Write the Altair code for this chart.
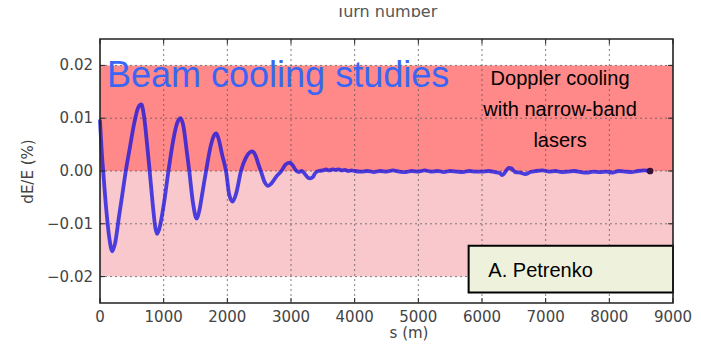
import altair as alt
import pandas as pd

# ---- data ----
s_m = [0, 25, 50, 100, 150, 192, 240, 300, 350, 405, 470, 540, 600, 650, 690, 740, 780,
       830, 870, 895, 930, 1000, 1075, 1150, 1210, 1262, 1310, 1360, 1402, 1460, 1517,
       1560, 1610, 1666, 1740, 1795, 1825, 1860, 1920, 1979, 2030, 2083, 2140, 2214,
       2290, 2350, 2396, 2440, 2490, 2526, 2590, 2640, 2690, 2760, 2848, 2920, 2984,
       3030, 3072, 3120, 3170, 3220, 3270, 3300, 3340, 3380, 3430, 3500, 3550, 3600,
       3650, 3700, 3750, 3800, 3850, 3900, 3950, 4000, 4100, 4200, 4300, 4400, 4500,
       4600, 4700, 4800, 4900, 5000, 5100, 5200, 5300, 5400, 5500, 5600, 5700, 5800,
       5900, 6000, 6100, 6200, 6280, 6320, 6370, 6420, 6460, 6520, 6600, 6680, 6760,
       6850, 6950, 7050, 7150, 7250, 7350, 7450, 7550, 7650, 7750, 7850, 7950, 8050,
       8150, 8250, 8350, 8450, 8550, 8640]
dE = [0.0095, 0.0040, 0.0000, -0.0075, -0.0130, -0.0152, -0.0135, -0.0085, -0.0045, 0.0000,
      0.0045, 0.0092, 0.0120, 0.0126, 0.0105, 0.0050, 0.0000,
      -0.0065, -0.0108, -0.0119, -0.0110, -0.0065, 0.0000, 0.0058, 0.0090, 0.0100, 0.0085,
      0.0040, 0.0000, -0.0060, -0.0090,
      -0.0075, -0.0040, 0.0000, 0.0048, 0.0068, 0.0071, 0.0062, 0.0030, 0.0000, -0.0045,
      -0.0058, -0.0042, 0.0000,
      0.0025, 0.0035, 0.0037, 0.0030, 0.0012, 0.0000, -0.0022, -0.0028, -0.0024, -0.0012,
      0.0000, 0.0013, 0.0016,
      0.0010, 0.0002, -0.0002, 0.0000, -0.0006, -0.0013, -0.0014, -0.0012, -0.0004, 0.0000,
      0.0001, 0.0003, 0.0001,
      0.0003, 0.0002, 0.0003, 0.0001, 0.0002, 0.0000, 0.0001, 0.0000, -0.0001, 0.0000,
      -0.0002, 0.0000, -0.0001,
      0.0001, -0.0001, -0.0002, 0.0000, -0.0001, 0.0001, -0.0001, 0.0000, -0.0002, 0.0000,
      -0.0001, -0.0002, 0.0000,
      -0.0001, -0.0001, 0.0000, -0.0002, -0.0004, -0.0008, -0.0001, 0.0006, 0.0005,
      -0.0002, -0.0003, -0.0006, -0.0002,
      0.0000, 0.0001, -0.0001, 0.0000, -0.0002, -0.0001, 0.0000, -0.0002, -0.0003, -0.0001,
      -0.0002, -0.0001, -0.0003,
      0.0000, -0.0001, -0.0002, 0.0000, 0.0001, 0.0000]

x_ticks = [0, 1000, 2000, 3000, 4000, 5000, 6000, 7000, 8000, 9000]
y_ticks = [-0.02, -0.01, 0.0, 0.01, 0.02]

band_names = ["positive", "negative"]
band_high = [0.02, 0.0]
band_low = [0.0, -0.02]
band_colors = ["#FF8888", "#F9C8CD"]

title_top = "Turn number"
x_title = "s (m)"
y_title = "dE/E (%)"
headline = "Beam cooling studies"
note_lines = "Doppler cooling\nwith narrow-band\nlasers"
author = "A. Petrenko"

# ---- chart ----
W, H = 573, 264
FONT = "DejaVu Sans"
GRAY = "#444444"

xs = alt.Scale(domain=[0, 9000], nice=False, zero=False)
ys = alt.Scale(domain=[-0.025, 0.025], nice=False, zero=False)

df_line = pd.DataFrame({"s": s_m, "dE": dE})
df_end = pd.DataFrame({"s": [s_m[-1]], "dE": [dE[-1]]})
df_bands = pd.DataFrame({"name": band_names, "hi": band_high, "lo": band_low})
df_xt = pd.DataFrame({"t": x_ticks})
df_xg = pd.DataFrame({"t": x_ticks[1:-1]})
df_yt = pd.DataFrame({"t": y_ticks})

bands = alt.Chart(df_bands).mark_rect().encode(
    x=alt.value(0), x2=alt.value(W),
    y=alt.Y("hi:Q", scale=ys, axis=None), y2="lo:Q",
    color=alt.Color("name:N", scale=alt.Scale(domain=band_names, range=band_colors), legend=None),
)

grid_style = dict(color="#555555", strokeDash=[2, 3], strokeWidth=1, opacity=0.75)
xgrid = alt.Chart(df_xg).mark_rule(**grid_style).encode(
    x=alt.X("t:Q", scale=xs, axis=None), y=alt.value(0), y2=alt.value(H))
ygrid = alt.Chart(df_yt).mark_rule(**grid_style).encode(
    y=alt.Y("t:Q", scale=ys, axis=None), x=alt.value(0), x2=alt.value(W))

tick_style = dict(color="#222222", strokeWidth=1)
xt_top = alt.Chart(df_xt).mark_rule(**tick_style).encode(
    x=alt.X("t:Q", scale=xs, axis=None), y=alt.value(0), y2=alt.value(5))
xt_bot = alt.Chart(df_xt).mark_rule(**tick_style).encode(
    x=alt.X("t:Q", scale=xs, axis=None), y=alt.value(H - 5), y2=alt.value(H))
yt_left = alt.Chart(df_yt).mark_rule(**tick_style).encode(
    y=alt.Y("t:Q", scale=ys, axis=None), x=alt.value(0), x2=alt.value(5))
yt_right = alt.Chart(df_yt).mark_rule(**tick_style).encode(
    y=alt.Y("t:Q", scale=ys, axis=None), x=alt.value(W - 5), x2=alt.value(W))

# tick labels as text marks driven by the tick lists
xlabels = alt.Chart(df_xt).mark_text(
    font=FONT, fontSize=15, color=GRAY, align="center", baseline="alphabetic").encode(
    x=alt.X("t:Q", scale=xs, axis=None), y=alt.value(H + 18.5),
    text=alt.Text("t:Q", format="d"))
ylabels = alt.Chart(df_yt).mark_text(
    font=FONT, fontSize=15, color=GRAY, align="right", baseline="middle").encode(
    y=alt.Y("t:Q", scale=ys, axis=None), x=alt.value(-7),
    text=alt.Text("t:Q", format=".2f"))

xtitle = alt.Chart().mark_text(
    text=x_title, font=FONT, fontSize=15, color=GRAY, align="center",
    baseline="alphabetic").encode(x=alt.value(309), y=alt.value(H + 35))
ytitle = alt.Chart().mark_text(
    text=y_title, font=FONT, fontSize=15, color=GRAY, align="center",
    baseline="alphabetic", angle=270).encode(x=alt.value(-67), y=alt.value(132.5))

line = alt.Chart(df_line).mark_line(
    color="#1A14E0", opacity=0.78, strokeWidth=3.8, interpolate="monotone",
    strokeCap="round", strokeJoin="round").encode(
    x=alt.X("s:Q", scale=xs, axis=None), y=alt.Y("dE:Q", scale=ys, axis=None))

end_pt = alt.Chart(df_end).mark_point(filled=True, color="#3A1238", size=45, opacity=1).encode(
    x=alt.X("s:Q", scale=xs, axis=None), y=alt.Y("dE:Q", scale=ys, axis=None))

head = alt.Chart().mark_text(
    text=headline, font="Liberation Sans", fontSize=36, color="#3A66F5",
    align="left", baseline="alphabetic").encode(
    x=alt.X(datum=110, scale=xs, axis=None), y=alt.Y(datum=0.0159, scale=ys, axis=None))

note = alt.Chart().mark_text(
    text=note_lines, lineBreak="\n", lineHeight=31, font="Liberation Sans", fontSize=20,
    color="#000000", align="center", baseline="alphabetic").encode(
    x=alt.X(datum=7226, scale=xs, axis=None), y=alt.Y(datum=0.0163, scale=ys, axis=None))

box = alt.Chart().mark_rect(fill="#EEF2DC", stroke="#000000", strokeWidth=2).encode(
    x=alt.X(datum=5790, scale=xs, axis=None), x2=alt.X2(datum=9000),
    y=alt.Y(datum=-0.01415, scale=ys, axis=None), y2=alt.Y2(datum=-0.0230))

author_txt = alt.Chart().mark_text(
    text=author, font="Liberation Sans", fontSize=20, color="#000000",
    align="left", baseline="alphabetic").encode(
    x=alt.X(datum=6100, scale=xs, axis=None), y=alt.Y(datum=-0.0200, scale=ys, axis=None))

frame = alt.Chart().mark_rect(filled=False, stroke="#222222", strokeWidth=1.6).encode(
    x=alt.value(0), x2=alt.value(W), y=alt.value(0), y2=alt.value(H))

top_title = alt.Chart().mark_text(
    text=title_top, font=FONT, fontSize=16, color="#555555",
    align="center", baseline="alphabetic").encode(
    x=alt.value(W / 2), y=alt.value(-22.5))

chart = alt.layer(
    bands, xgrid, ygrid, line, end_pt, xt_top, xt_bot, yt_left, yt_right,
    head, note, box, author_txt, frame, top_title, xlabels, ylabels, xtitle, ytitle
).properties(
    width=W, height=H,
    autosize=alt.AutoSizeParams(type="none"),
    padding={"left": 92, "top": 31, "right": 20, "bottom": 40},
    background="white",
).configure_view(stroke=None)

chart.save("out.html", embed_options={"renderer": "svg", "actions": False})
